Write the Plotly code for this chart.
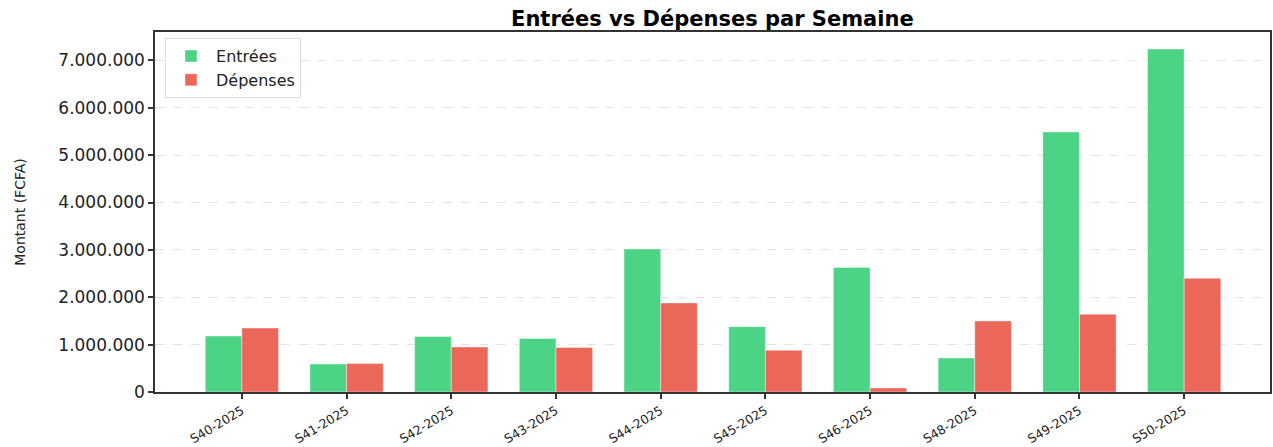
import plotly.graph_objects as go

semaines = ["S40-2025", "S41-2025", "S42-2025", "S43-2025", "S44-2025",
            "S45-2025", "S46-2025", "S48-2025", "S49-2025", "S50-2025"]
entrees = [1180000, 590000, 1170000, 1130000, 3020000,
           1380000, 2630000, 720000, 5490000, 7240000]
depenses = [1350000, 600000, 950000, 940000, 1880000,
            880000, 85000, 1500000, 1640000, 2400000]
y_ticks = [0, 1000000, 2000000, 3000000, 4000000, 5000000, 6000000, 7000000]

fig = go.Figure()
fig.add_trace(go.Bar(x=semaines, y=entrees, name="Entrées",
                     marker=dict(color="#4dd386", line=dict(color="rgba(255,255,255,0.5)", width=0.8))))
fig.add_trace(go.Bar(x=semaines, y=depenses, name="Dépenses",
                     marker=dict(color="#ea6759", line=dict(color="rgba(255,255,255,0.5)", width=0.8))))

fig.update_layout(
    width=1273, height=447,
    barmode="group", bargap=0.3, bargroupgap=0,
    separators=",.",
    plot_bgcolor="white", paper_bgcolor="white",
    margin=dict(l=155, r=3, t=32, b=55, autoexpand=False),
    font=dict(family="DejaVu Sans", color="#222"),
    title=dict(text="<b>Entrées vs Dépenses par Semaine</b>", x=0.5596, xanchor="center",
               y=0.958, yanchor="middle", font=dict(size=21, color="black")),
    legend=dict(x=0.009, y=0.983, xanchor="left", yanchor="top",
                bgcolor="rgba(255,255,255,0.8)", bordercolor="#dddddd", borderwidth=1,
                font=dict(size=16), traceorder="normal", itemwidth=40),
    showlegend=True,
)
fig.update_xaxes(type="category", range=[-0.83, 9.82], tickangle=-31, automargin=False,
                 showline=True, linecolor="#333", linewidth=1.5, mirror=True,
                 ticks="outside", ticklen=5, tickcolor="#333", tickwidth=1.5,
                 tickfont=dict(size=12.5, color="#222"), showgrid=False)
fig.update_yaxes(range=[0, 7600000], tickvals=y_ticks, tickformat=",d", automargin=False,
                 showline=True, linecolor="#333", linewidth=1.5, mirror=True,
                 ticks="outside", ticklen=5, tickcolor="#333", tickwidth=1.5,
                 tickfont=dict(size=17, color="#222"),
                 showgrid=True, gridcolor="#e3e3e3", griddash="dash", gridwidth=1,
                 zeroline=False,
                 title=dict(text="Montant (FCFA)", font=dict(size=14, color="#222"), standoff=29))

fig.write_html("out.html", config={"displayModeBar": False},
               post_script="document.body.style.margin='0';")
